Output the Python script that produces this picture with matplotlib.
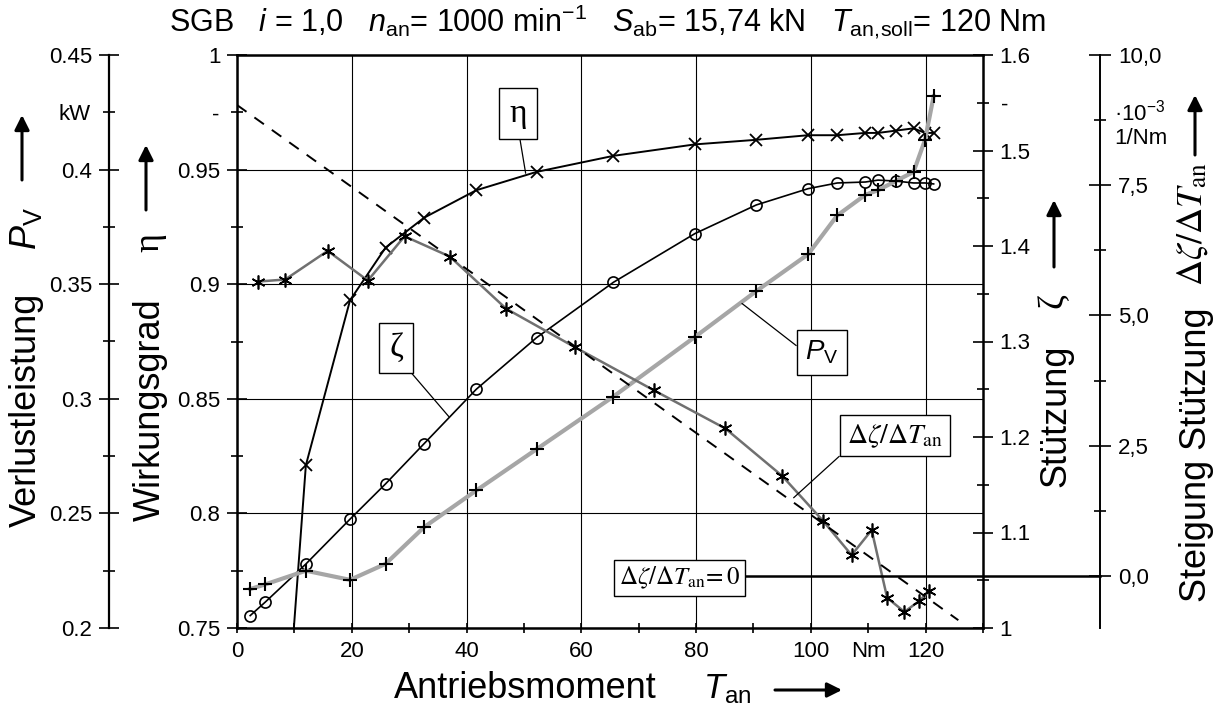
import matplotlib
matplotlib.use("Agg")
import matplotlib.pyplot as plt
from matplotlib.ticker import MultipleLocator, FixedLocator, FuncFormatter
from matplotlib.transforms import blended_transform_factory

plt.rcParams['font.family'] = 'Liberation Sans'
plt.rcParams['mathtext.fontset'] = 'custom'
plt.rcParams['mathtext.rm'] = 'Liberation Sans'
plt.rcParams['mathtext.it'] = 'Liberation Sans:italic'
plt.rcParams['mathtext.bf'] = 'Liberation Sans:bold'

# measured torques (Nm)
t_meas = [2.3, 4.9, 12.0, 19.7, 25.9, 32.6, 41.7, 52.2, 65.6, 79.8, 90.5,
          99.5, 104.6, 109.5, 111.7, 114.8, 117.9, 119.9, 121.4]
# efficiency
eta = [0.40, 0.58, 0.821, 0.893, 0.916, 0.929, 0.941, 0.949, 0.956, 0.961, 0.963,
       0.965, 0.965, 0.966, 0.966, 0.967, 0.968, 0.966, 0.966]
# support factor zeta
zeta = [1.013, 1.027, 1.067, 1.114, 1.151, 1.193, 1.250, 1.304, 1.362, 1.413, 1.443,
        1.460, 1.466, 1.467, 1.469, 1.468, 1.466, 1.466, 1.465]
# power loss (kW)
p_v = [0.217, 0.219, 0.225, 0.221, 0.228, 0.244, 0.260, 0.278, 0.301, 0.327, 0.347,
       0.363, 0.380, 0.389, 0.391, 0.395, 0.399, 0.413, 0.432]
# slope d zeta / d T (1e-3 1/Nm), at interval midpoints
t_slope = [3.6, 8.4, 15.8, 22.8, 29.2, 37.1, 46.9, 58.9, 72.7, 85.1, 95.0,
           102.1, 107.1, 110.6, 113.3, 116.3, 118.9, 120.6]
slope = [5.65, 5.69, 6.24, 5.67, 6.52, 6.13, 5.13, 4.39, 3.56, 2.83, 1.92,
         1.06, 0.40, 0.88, -0.42, -0.69, -0.48, -0.29]
# linear trend of the slope
fit_t = [0.0, 125.7]
fit_slope = [9.04, -0.85]

W, H = 1220, 709


def fx(x):
    return x / W


def fy(y):
    return 1 - y / H


fig = plt.figure(figsize=(12.2, 7.09), dpi=100)
ax = fig.add_axes([fx(237), fy(628), 746 / W, 573 / H])

TICK = 16

# main axes: efficiency
ax.set_xlim(0, 130)
ax.set_ylim(0.75, 1.0)
ax.xaxis.set_major_locator(MultipleLocator(20))
ax.xaxis.set_minor_locator(MultipleLocator(10))
ax.xaxis.set_major_formatter(FuncFormatter(lambda v, p: '%g' % v))
ax.xaxis.set_minor_formatter(FuncFormatter(lambda v, p: 'Nm' if abs(v - 110) < 1e-6 else ''))
ax.yaxis.set_major_locator(MultipleLocator(0.05))
ax.yaxis.set_minor_locator(MultipleLocator(0.025))
ax.yaxis.set_major_formatter(FuncFormatter(lambda v, p: '%g' % round(v, 3)))
ax.yaxis.set_minor_formatter(FuncFormatter(lambda v, p: '-' if abs(v - 0.975) < 1e-6 else ''))
ax.tick_params(axis='x', which='both', direction='inout', length=7, width=1.2,
               labelsize=TICK, pad=6, top=False)
ax.tick_params(axis='y', which='major', direction='inout', length=14, width=1.2,
               labelsize=TICK, pad=5, right=False)
ax.tick_params(axis='y', which='minor', direction='inout', length=8, width=1.2,
               labelsize=TICK, pad=9, right=False)
ax.grid(True, which='major', color='black', lw=0.8)
for s in ax.spines.values():
    s.set_linewidth(1.8)

ax.plot(t_meas, eta, color='black', lw=1.4, marker='x', ms=9, mew=1.3, zorder=4)

# zeta axis (right)
ax_z = ax.twinx()
ax_z.set_ylim(1.0, 1.6)
ax_z.yaxis.set_major_locator(MultipleLocator(0.1))
ax_z.yaxis.set_minor_locator(MultipleLocator(0.05))
ax_z.yaxis.set_major_formatter(FuncFormatter(lambda v, p: '%g' % round(v, 3)))
ax_z.yaxis.set_minor_formatter(FuncFormatter(lambda v, p: '-' if abs(v - 1.55) < 1e-6 else ''))
ax_z.tick_params(axis='y', which='major', direction='inout', length=14, width=1.2,
                 labelsize=TICK, pad=5)
ax_z.tick_params(axis='y', which='minor', direction='inout', length=8, width=1.2,
                 labelsize=TICK, pad=9)
for s in ax_z.spines.values():
    s.set_visible(False)
ax_z.plot(t_meas, zeta, color='black', lw=1.2, marker='o', ms=8, mfc='none', mew=1.2)

# power loss axis (outer left)
ax_p = ax.twinx()
ax_p.set_ylim(0.2, 0.45)
for s in ax_p.spines.values():
    s.set_visible(False)
ax_p.spines['left'].set_visible(True)
ax_p.spines['left'].set_position(('axes', -128 / 746))
ax_p.spines['left'].set_linewidth(1.6)
ax_p.yaxis.tick_left()
ax_p.yaxis.set_major_locator(MultipleLocator(0.05))
ax_p.yaxis.set_minor_locator(MultipleLocator(0.025))
ax_p.yaxis.set_major_formatter(FuncFormatter(lambda v, p: '%g' % round(v, 3)))
ax_p.yaxis.set_minor_formatter(FuncFormatter(lambda v, p: 'kW' if abs(v - 0.425) < 1e-6 else ''))
ax_p.tick_params(axis='y', which='major', direction='inout', length=14, width=1.2,
                 labelsize=TICK, pad=5)
ax_p.tick_params(axis='y', which='minor', direction='inout', length=8, width=1.2,
                 labelsize=TICK, pad=9)
ax_p.plot(t_meas, p_v, color='#a6a6a6', lw=3, zorder=2)
ax_p.plot(t_meas, p_v, ls='none', marker='+', ms=10, mew=1.5, color='black', zorder=3)

# slope axis (outer right)
ax_d = ax.twinx()
ax_d.set_ylim(-1.0, 10.0)
for s in ax_d.spines.values():
    s.set_visible(False)
ax_d.spines['right'].set_visible(True)
ax_d.spines['right'].set_position(('axes', 863 / 746))
ax_d.spines['right'].set_linewidth(1.4)
ax_d.yaxis.set_major_locator(FixedLocator([0, 2.5, 5, 7.5, 10]))
ax_d.yaxis.set_minor_locator(FixedLocator([1.25, 3.75, 6.25, 8.75]))
ax_d.yaxis.set_major_formatter(FuncFormatter(lambda v, p: ('%.1f' % v).replace('.', ',')))
ax_d.yaxis.set_minor_formatter(FuncFormatter(
    lambda v, p: '·10$^{-3}$\n1/Nm' if abs(v - 8.75) < 1e-6 else ''))
ax_d.tick_params(axis='y', which='major', direction='inout', length=16, width=1.2,
                 labelsize=TICK, pad=5)
ax_d.tick_params(axis='y', which='minor', direction='inout', length=8, width=1.2,
                 labelsize=TICK, pad=6)
ax_d.plot(t_slope, slope, color='#707070', lw=1.8, zorder=2)
ax_d.plot(t_slope, slope, ls='none', marker=(6, 2, 0), ms=10, mew=1.2, color='black', zorder=3)
ax_d.plot(fit_t, fit_slope, color='black', lw=1.4, ls=(0, (6, 5)))
tr = blended_transform_factory(ax_d.transAxes, ax_d.transData)
ax_d.plot([0.68, 863 / 746], [0, 0], transform=tr, color='black', lw=1.8, clip_on=False)

# curve labels
box = dict(boxstyle='square,pad=0.3', fc='white', ec='black', lw=1)
ax_d.annotate('η', xy=(50.3, 7.73), xytext=(49.0, 8.88), ha='center', va='center',
              fontsize=24, family='Liberation Serif', bbox=box, zorder=6,
              arrowprops=dict(arrowstyle='-', lw=0.9, color='black', relpos=(0.5, 0),
                              shrinkA=0, shrinkB=0))
ax_d.annotate('ζ', xy=(36.9, 3.06), xytext=(27.7, 4.38), ha='center', va='center',
              fontsize=24, family='Liberation Serif', bbox=box, zorder=6,
              arrowprops=dict(arrowstyle='-', lw=0.9, color='black', relpos=(1, 0),
                              shrinkA=0, shrinkB=0))
ax_d.annotate(r'$P_{\mathrm{V}}$', xy=(88.0, 5.23), xytext=(101.9, 4.29), ha='center',
              va='center', fontsize=20, bbox=dict(box, pad=0.25), zorder=6,
              arrowprops=dict(arrowstyle='-', lw=0.9, color='black', relpos=(0, 0.5),
                              shrinkA=0, shrinkB=0))
ax_d.annotate(r'$\Delta\zeta/\Delta T_{\mathrm{an}}$', xy=(97.0, 1.50), xytext=(114.6, 2.69),
              ha='center', va='center', fontsize=20, math_fontfamily='stix',
              bbox=dict(box, boxstyle='square,pad=0.25'), zorder=6,
              arrowprops=dict(arrowstyle='-', lw=0.9, color='black', relpos=(0, 0),
                              shrinkA=0, shrinkB=0))
ax_d.text(77.1, -0.04, r'$\Delta\zeta/\Delta T_{\mathrm{an}}\!= 0$', ha='center', va='center',
          fontsize=18, math_fontfamily='stix', bbox=dict(box, boxstyle='square,pad=0.2'),
          zorder=6)

# axis titles with arrows
arrow = dict(arrowstyle='-|>', color='black', lw=2.2, mutation_scale=22, shrinkA=0, shrinkB=0)


def up_arrow(x, y0, y1):
    fig.add_artist(matplotlib.patches.FancyArrowPatch(
        (fx(x), fy(y0)), (fx(x), fy(y1)), transform=fig.transFigure, **arrow))


fig.text(fx(26), fy(410), 'Verlustleistung', rotation=90, fontsize=26, ha='center', va='center')
fig.text(fx(26), fy(229), r'$P_{\mathrm{V}}$', rotation=90, fontsize=26, ha='center', va='center')
up_arrow(22, 180, 115)

fig.text(fx(150), fy(410), 'Wirkungsgrad', rotation=90, fontsize=26, ha='center', va='center')
fig.text(fx(150), fy(243), 'η', rotation=90, fontsize=26, family='Liberation Serif',
         ha='center', va='center')
up_arrow(146, 210, 145)

fig.text(fx(1056), fy(416), 'Stützung', rotation=90, fontsize=26, ha='center', va='center')
fig.text(fx(1054), fy(300), 'ζ', rotation=90, fontsize=26, family='Liberation Serif',
         ha='center', va='center')
up_arrow(1054, 267, 200)

fig.text(fx(1196), fy(455), 'Steigung Stützung', rotation=90, fontsize=26, ha='center',
         va='center')
fig.text(fx(1192), fy(224), r'$\Delta\zeta/\Delta T_{\mathrm{an}}$', rotation=90, fontsize=26,
         math_fontfamily='stix', ha='center', va='center')
up_arrow(1195, 155, 95)

fig.text(fx(525), fy(698), 'Antriebsmoment', fontsize=26, ha='center', va='baseline')
fig.text(fx(703), fy(698), r'$T_{\mathrm{an}}$', fontsize=25, ha='left', va='baseline')
fig.add_artist(matplotlib.patches.FancyArrowPatch(
    (fx(775), fy(690)), (fx(842), fy(690)), transform=fig.transFigure, **arrow))

fig.text(fx(607), fy(22),
         r'SGB   $i$ = 1,0   $n_{\mathrm{an}}$= 1000 min$^{-1}$   $S_{\mathrm{ab}}$= 15,74 kN'
         r'   $T_{\mathrm{an},\!\mathrm{soll}}$= 120 Nm', fontsize=22, ha='center', va='center')

fig.savefig('out.png', dpi=100)
